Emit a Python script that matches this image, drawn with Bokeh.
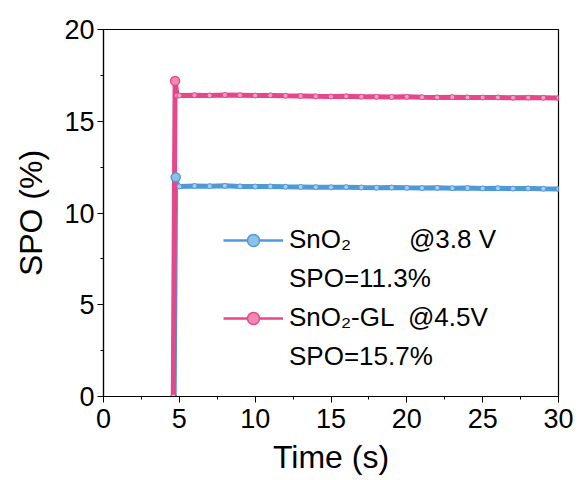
from bokeh.plotting import figure
from bokeh.models import Range1d, Legend, LegendItem, FixedTicker, ColumnDataSource
from bokeh.embed import file_html
from bokeh.resources import INLINE

# ---- data ----
pink_t = [4.60, 4.72, 4.85, 5, 6, 7, 8, 9, 10, 11, 12, 13, 14, 15, 16, 17, 18, 19,
          20, 21, 22, 23, 24, 25, 26, 27, 28, 29, 30]
pink_v = [0.0, 17.2, 16.40, 16.40, 16.42, 16.41, 16.43, 16.42, 16.40, 16.41, 16.39,
          16.38, 16.36, 16.35, 16.36, 16.34, 16.33, 16.32, 16.33, 16.31, 16.30, 16.31,
          16.30, 16.29, 16.30, 16.28, 16.29, 16.28, 16.27]
blue_t = [4.66, 4.76, 4.90, 5, 6, 7, 8, 9, 10, 11, 12, 13, 14, 15, 16, 17, 18, 19,
          20, 21, 22, 23, 24, 25, 26, 27, 28, 29, 30]
blue_v = [0.0, 11.95, 11.45, 11.45, 11.47, 11.46, 11.48, 11.45, 11.44, 11.45, 11.43,
          11.42, 11.41, 11.40, 11.41, 11.39, 11.38, 11.39, 11.37, 11.36, 11.37, 11.35,
          11.36, 11.34, 11.35, 11.33, 11.34, 11.32, 11.31]
x_ticks = [0, 5, 10, 15, 20, 25, 30]
y_ticks = [0, 5, 10, 15, 20]
labels = ["SnO\u2082        @3.8 V", "SPO=11.3%", "SnO\u2082-GL  @4.5V", "SPO=15.7%"]

BLUE = "#4e9ad8"
PINK = "#e6468a"
FONT = "Liberation Sans"
NAN = float("nan")

p = figure(width=580, height=480, output_backend="svg", toolbar_location=None,
           x_range=Range1d(0, 30), y_range=Range1d(0, 20),
           min_border_left=103, min_border_right=22, min_border_top=29, min_border_bottom=84)
p.grid.visible = False
p.outline_line_color = "black"
p.outline_line_width = 1.2
p.background_fill_color = "white"
p.border_fill_color = "white"

bsrc = ColumnDataSource(dict(t=blue_t, v=blue_v))
psrc = ColumnDataSource(dict(t=pink_t, v=pink_v))

bl = p.line("t", "v", source=bsrc, line_color=BLUE, line_width=5)
bs = p.scatter("t", "v", source=bsrc, size=5, marker="circle", line_color=BLUE,
               fill_color="#a9cdee", line_width=1)
pl = p.line("t", "v", source=psrc, line_color=PINK, line_width=5)
ps = p.scatter("t", "v", source=psrc, size=5, marker="circle", line_color=PINK,
               fill_color="#f3a3c4", line_width=1)
# peak markers
p.scatter([blue_t[1]], [blue_v[1]], size=9, line_color=BLUE, fill_color="#8fc0ea", line_width=1.5)
p.scatter([pink_t[1]], [pink_v[1]], size=9, line_color=PINK, fill_color="#f08ab5", line_width=1.5)

# legend glyph proxies (never visible in the plot area)
lb = p.line([NAN], [NAN], line_color=BLUE, line_width=2.5)
lbs = p.scatter([NAN], [NAN], size=7, line_color=BLUE, fill_color="#8fc0ea", line_width=1.5)
lp = p.line([NAN], [NAN], line_color=PINK, line_width=2.5)
lps = p.scatter([NAN], [NAN], size=7, line_color=PINK, fill_color="#f08ab5", line_width=1.5)
blank1 = p.line([NAN], [NAN], line_alpha=0)
blank2 = p.line([NAN], [NAN], line_alpha=0)

legend = Legend(items=[
    LegendItem(label=labels[0], renderers=[lb, lbs]),
    LegendItem(label=labels[1], renderers=[blank1]),
    LegendItem(label=labels[2], renderers=[lp, lps]),
    LegendItem(label=labels[3], renderers=[blank2]),
], location=(120, 24))
legend.border_line_alpha = 0
legend.background_fill_alpha = 0
legend.padding = 0
legend.margin = 0
legend.spacing = 8
legend.glyph_width = 60
legend.glyph_height = 30
legend.label_height = 30
legend.label_standoff = 6
legend.label_text_font = FONT
legend.label_text_font_size = "26px"
legend.label_text_color = "black"
p.add_layout(legend)

for ax in (p.xaxis[0], p.yaxis[0]):
    ax.major_label_text_font = FONT
    ax.major_label_text_font_size = "27px"
    ax.major_label_text_color = "black"
    ax.axis_label_text_font = FONT
    ax.axis_label_text_font_size = "32px"
    ax.axis_label_text_font_style = "normal"
    ax.axis_label_text_color = "black"
    ax.axis_line_color = "black"
    ax.axis_line_width = 1.2
    ax.major_tick_line_color = "black"
    ax.minor_tick_line_color = "black"
    ax.major_tick_out = 6
    ax.major_tick_in = 0
    ax.minor_tick_out = 3
    ax.minor_tick_in = 0

p.xaxis.major_label_standoff = 6
p.yaxis.major_label_standoff = 3
p.xaxis.ticker = FixedTicker(ticks=x_ticks, minor_ticks=[2.5, 7.5, 12.5, 17.5, 22.5, 27.5])
p.yaxis.ticker = FixedTicker(ticks=y_ticks, minor_ticks=[2.5, 7.5, 12.5, 17.5])
p.xaxis.axis_label = "Time (s)"
p.yaxis.axis_label = "SPO (%)"
p.xaxis.axis_label_standoff = 8
p.yaxis.axis_label_standoff = 12

open("out.html", "w").write(file_html(p, INLINE))
